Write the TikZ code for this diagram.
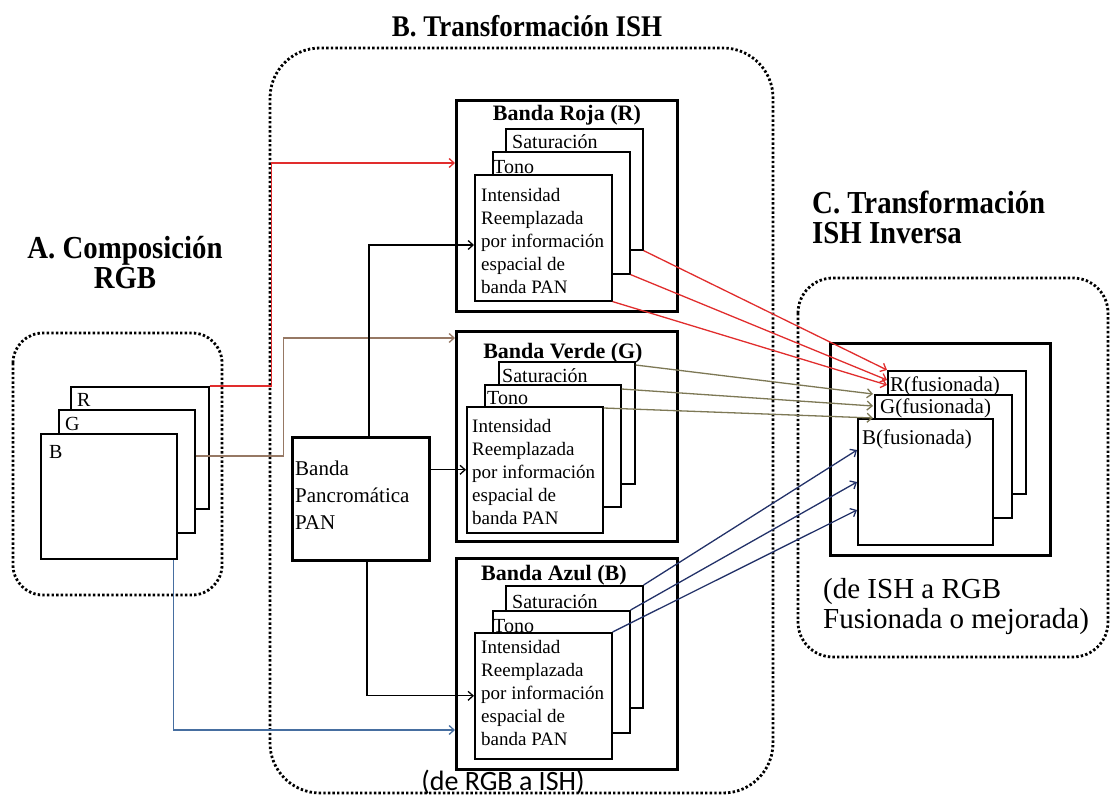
\documentclass[tikz,border=0pt]{standalone}
\usepackage{fontspec}
\setmainfont{Liberation Serif}
\newfontfamily\calfont{Carlito}
\newfontfamily\ttlfont[FakeStretch=0.9]{Liberation Serif}
\usetikzlibrary{arrows.meta}
\definecolor{rojo}{RGB}{225,45,45}
\definecolor{olivo}{RGB}{125,120,85}
\definecolor{cafe}{RGB}{150,120,100}
\definecolor{azulosc}{RGB}{35,50,105}
\definecolor{azulcl}{RGB}{70,110,160}
\begin{document}
\begin{tikzpicture}[x=1pt, y=-1pt,
    lay/.style={draw, fill=white, line width=1.6pt, anchor=north west, inner sep=0pt},
    band/.style={lay, line width=2.8pt, minimum width=221pt, minimum height=211pt},
    zone/.style={line width=2.8pt, dash pattern=on 2.4pt off 2.2pt, rounded corners=#1},
    lbl/.style={anchor=base west, inner sep=0pt, font=\fontsize{20}{24}\selectfont},
    intxt/.style={anchor=north west, align=left, inner sep=0pt, font=\fontsize{19}{23}\selectfont},
    bttl/.style={anchor=base, inner sep=0pt, font=\bfseries\fontsize{22}{26}\selectfont},
    ttl/.style={anchor=base, inner sep=0pt, align=center, font=\ttlfont\bfseries\fontsize{32}{30}\selectfont},
    con/.style={line width=1.3pt, -{Straight Barb[length=5pt,width=9pt]}}
  ]
  \useasboundingbox (0,0) rectangle (1110,800);
  % zonas punteadas
  \draw[zone=30pt] (13,333) rectangle (222,595);   % A
  \draw[zone=50pt] (270,48) rectangle (773,793);   % B
  \draw[zone=35pt] (798,278) rectangle (1108,657); % C
  \node[ttl] (ta) at (125,288) {A. Composición\\RGB};
  \node[ttl, font=\ttlfont\bfseries\fontsize{30}{30}\selectfont] (tb) at (527,37) {B. Transformación ISH};
  \node[ttl, anchor=base west, align=left] (tc) at (812,243) {C. Transformación\\ISH Inversa};

  % A: composicion RGB
  \node[lay, minimum width=138pt, minimum height=122pt] (lr) at (70,386) {};
  \node[lbl] (lrt) at ([shift={(7pt,-20pt)}]lr.north west) {R};
  \node[lay, minimum width=136pt, minimum height=123pt] (lg) at (58,409) {};
  \node[lbl] (lgt) at ([shift={(7pt,-21pt)}]lg.north west) {G};
  \node[lay, minimum width=136pt, minimum height=125pt] (lb) at (40,433) {};
  \node[lbl] (lbt) at ([shift={(9pt,-25pt)}]lb.north west) {B};

  % B: banda roja
  \node[band] (rr) at (455,99) {};
  \node[bttl] (rrt) at ([yshift=-21pt]rr.north) {Banda Roja (R)};
  \node[lay, minimum width=137pt, minimum height=121pt] (rs) at (505,128) {};
  \node[lbl] (rst) at ([shift={(7pt,-20pt)}]rs.north west) {Saturación};
  \node[lay, minimum width=137pt, minimum height=122pt] (rt) at (492,151) {};
  \node[lbl] (rtt) at ([shift={(1pt,-22pt)}]rt.north west) {Tono};
  \node[lay, minimum width=137pt, minimum height=126pt] (ri) at (474,174) {};
  \node[intxt] (rit) at ([shift={(7pt,-14pt)}]ri.north west) {Intensidad\\Reemplazada\\por información\\espacial de\\banda PAN};

  % B: banda verde
  \node[band, minimum height=210pt] (gr) at (455,330) {};
  \node[bttl] (grt) at ([shift={(-4pt,-28pt)}]gr.north) {Banda Verde (G)};
  \node[lay, minimum width=136pt, minimum height=122pt] (gs) at (498,361) {};
  \node[lbl] (gst) at ([shift={(4pt,-21pt)}]gs.north west) {Saturación};
  \node[lay, minimum width=136pt, minimum height=122pt] (gt) at (484,384) {};
  \node[lbl] (gtt) at ([shift={(3pt,-20pt)}]gt.north west) {Tono};
  \node[lay, minimum width=136pt, minimum height=126pt] (gi) at (466,406) {};
  \node[intxt] (git) at ([shift={(6pt,-13pt)}]gi.north west) {Intensidad\\Reemplazada\\por información\\espacial de\\banda PAN};

  % B: banda azul
  \node[band] (br) at (455,557) {};
  \node[bttl] (brt) at ([shift={(-13pt,-23pt)}]br.north) {Banda Azul (B)};
  \node[lay, minimum width=137pt, minimum height=122pt] (bs) at (505,585) {};
  \node[lbl] (bst) at ([shift={(7pt,-23pt)}]bs.north west) {Saturación};
  \node[lay, minimum width=137pt, minimum height=122pt] (bt) at (492,610) {};
  \node[lbl] (btt) at ([shift={(1pt,-22pt)}]bt.north west) {Tono};
  \node[lay, minimum width=137pt, minimum height=126pt] (bi) at (474,632) {};
  \node[intxt] (bit) at ([shift={(7pt,-8pt)}]bi.north west) {Intensidad\\Reemplazada\\por información\\espacial de\\banda PAN};

  % pancromatica
  \node[lay, line width=2.8pt, minimum width=137pt, minimum height=123pt] (pan) at (291,436) {};
  \node[intxt, font=\fontsize{21}{27}\selectfont] (pant) at ([shift={(4pt,-25pt)}]pan.north west) {Banda\\Pancromática\\PAN};
  \node[anchor=base, inner sep=0pt, font=\calfont\fontsize{28}{32}\selectfont] (tbb) at (503,790) {(de RGB a ISH)};

  % C: ISH inversa
  \node[lay, line width=2.8pt, minimum width=220pt, minimum height=212pt] (cr) at (829,342) {};
  \node[lay, minimum width=138pt, minimum height=123pt] (fr) at (887,370) {};
  \node[lbl, font=\fontsize{21}{24}\selectfont] (frt) at ([shift={(3pt,-21pt)}]fr.north west) {R(fusionada)};
  \node[lay, minimum width=137pt, minimum height=123pt] (fg) at (874,394) {};
  \node[lbl, font=\fontsize{21}{24}\selectfont] (fgt) at ([shift={(6pt,-19pt)}]fg.north west) {G(fusionada)};
  \node[lay, minimum width=135pt, minimum height=126pt] (fb) at (857,418) {};
  \node[lbl, font=\fontsize{21}{24}\selectfont] (fbt) at ([shift={(5pt,-26pt)}]fb.north west) {B(fusionada)};
  \node[anchor=base west, align=left, inner sep=0pt, font=\fontsize{29}{30}\selectfont] (tcc) at (823,628) {(de ISH a RGB\\Fusionada o mejorada)};

  % conexiones de A a B
  \draw[con, rojo] (lr.north east) -- ++(62,0) |- ([yshift=-64pt]rr.north west);
  \draw[con, cafe] ([yshift=-47pt]lg.north east) -- ++(88,0) |- ([yshift=-8pt]gr.north west);
  \draw[con, azulcl] ([xshift=-4pt]lb.south east) |- ([yshift=-173pt]br.north west);
  \draw[con] ([xshift=8pt]pan.north) |- ([yshift=-71pt]ri.north west);
  \draw[con] (gi.west -| pan.east) -- (gi.west);
  \draw[con] ([xshift=6pt]pan.south) |- (bi.west);

  % conexiones de B a C
  \draw[con, rojo] (rs.south east) -- (fr.north west);
  \draw[con, rojo] (rt.south east) -- ([yshift=-10pt]fr.north west);
  \draw[con, rojo] (ri.south east) -- ([yshift=-15pt]fr.north west);
  \draw[con, olivo] ([yshift=-4pt]gs.north east) -- ([xshift=-1pt]fg.north west);
  \draw[con, olivo] ([yshift=-5pt]gt.north east) -- ([shift={(-1pt,-12pt)}]fg.north west);
  \draw[con, olivo] ([yshift=-2pt]gi.north east) -- ([shift={(-1pt,-24pt)}]fg.north west);
  \draw[con, azulosc] (bs.north east) -- ([yshift=-32pt]fb.north west);
  \draw[con, azulosc] (bt.north east) -- ([yshift=-64pt]fb.north west);
  \draw[con, azulosc] (bi.north east) -- ([yshift=-92pt]fb.north west);
\end{tikzpicture}
\end{document}
